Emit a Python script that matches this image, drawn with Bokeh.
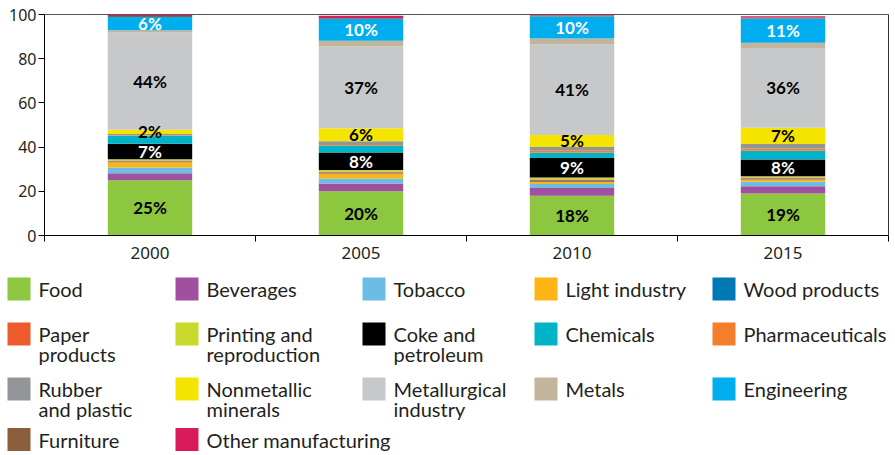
from bokeh.plotting import figure
from bokeh.models import ColumnDataSource, Range1d, FixedTicker, LinearAxis
from bokeh.embed import file_html
from bokeh.resources import INLINE
from bokeh.core.properties import value

years = ["2000", "2005", "2010", "2015"]
categories = ["Food", "Beverages", "Tobacco", "Light industry", "Wood products",
              "Paper\nproducts", "Printing and\nreproduction", "Coke and\npetroleum",
              "Chemicals", "Pharmaceuticals", "Rubber\nand plastic", "Nonmetallic\nminerals",
              "Metallurgical\nindustry", "Metals", "Engineering", "Furniture",
              "Other manufacturing"]
colors = ["#8dc63f", "#a0509f", "#6bbde3", "#fdb515", "#0079b4",
          "#ec5a2d", "#c8d92b", "#000000", "#00b3c7", "#f47f2a",
          "#939598", "#f5e400", "#c7c8ca", "#c2b59b", "#00adee",
          "#8b5e3c", "#d91b5c"]
y_ticks = [0, 20, 40, 60, 80, 100]

food = [25.0, 20.0, 18.0, 19.0]
beverages = [3.2, 3.5, 3.5, 3.3]
tobacco = [2.6, 2.3, 1.8, 2.0]
light_industry = [2.4, 2.3, 1.0, 1.0]
wood_products = [0.3, 0.3, 0.4, 0.4]
paper_products = [0.4, 0.6, 0.6, 0.5]
printing = [0.6, 0.6, 1.0, 0.6]
coke = [7.0, 8.0, 8.8, 7.6]
chemicals = [3.6, 3.0, 2.4, 4.0]
pharmaceuticals = [0.3, 0.3, 0.8, 1.0]
rubber = [0.5, 1.8, 1.8, 2.0]
nonmetallic = [2.0, 5.8, 5.4, 7.4]
metallurgical = [44.0, 37.0, 41.0, 36.0]
metals = [1.0, 2.6, 2.6, 2.4]
engineering = [6.0, 10.0, 10.0, 11.0]
furniture = [0.4, 0.3, 0.4, 0.4]
other = [0.5, 1.0, 0.6, 0.6]

series = [food, beverages, tobacco, light_industry, wood_products, paper_products,
          printing, coke, chemicals, pharmaceuticals, rubber, nonmetallic,
          metallurgical, metals, engineering, furniture, other]
labelled = {0: "#000000", 7: "#ffffff", 11: "#000000", 12: "#000000", 14: "#ffffff"}

# ---- layout geometry (page pixels) ----
W, H = 892, 454
OFF = 1                      # canvas offset on page
X0, XPX = 45, 211.0          # page x of x=0, px per category
Y0, YPX = 236, 2.21          # page y of y=0, px per percent


def dx(px):
    return (px - X0) / XPX


def dy(py):
    return (Y0 - py) / YPX


xs = [i + 0.5 for i in range(len(years))]
keys = ["s%d" % i for i in range(len(series))]
data = {"x": xs}
for k, s in zip(keys, series):
    data[k] = s
src = ColumnDataSource(data)

p = figure(width=W, height=H,
           x_range=Range1d(dx(OFF), dx(OFF + W)), y_range=Range1d(dy(OFF + H), dy(OFF)),
           toolbar_location=None, output_backend="svg", min_border=0,
           x_axis_location=None, y_axis_location=None)
p.outline_line_color = None
for g in p.grid:
    g.visible = False

p.vbar_stack(keys, x="x", width=0.4, source=src, fill_color=colors, line_color=None)

# value labels
lx, ly, lt, lc = [], [], [], []
for j in range(len(years)):
    cum = 0.0
    for i, s in enumerate(series):
        if i in labelled:
            lx.append(xs[j])
            ly.append(cum + s[j] / 2)
            lt.append("%d%%" % round(s[j]))
            lc.append(labelled[i])
        cum += s[j]
p.text(x=lx, y=ly, text=lt, text_color=lc, text_align="center", text_baseline="middle",
       text_font=value("Lato"), text_font_style="bold", text_font_size="17px")

# axes
xa = LinearAxis(fixed_location=0, bounds=(0, len(years)))
xa.ticker = FixedTicker(ticks=xs, minor_ticks=list(range(len(years) + 1)))
xa.major_label_overrides = {x: y for x, y in zip(xs, years)}
xa.major_tick_line_color = None
xa.major_tick_out = 5
xa.minor_tick_in = 0
xa.minor_tick_out = 6
xa.minor_tick_line_color = "#000000"
xa.axis_line_color = "#000000"
xa.major_label_standoff = 5
xa.major_label_text_font = "Noto Sans"
xa.major_label_text_font_size = "17px"
xa.major_label_text_color = "#231f20"
p.add_layout(xa, "below")

ya = LinearAxis(fixed_location=0, bounds=(0, 100))
ya.ticker = FixedTicker(ticks=y_ticks, minor_ticks=[])
ya.major_tick_in = 0
ya.major_tick_out = 6
ya.major_tick_line_color = "#000000"
ya.axis_line_color = "#000000"
ya.major_label_standoff = 2
ya.major_label_text_font = "Noto Sans"
ya.major_label_text_font_size = "16px"
ya.major_label_text_color = "#231f20"
p.add_layout(ya, "left")

# frame lines (top and right)
ta = LinearAxis(fixed_location=100, bounds=(0, len(years)))
ta.ticker = FixedTicker(ticks=[], minor_ticks=[])
ta.axis_line_color = "#555555"
ta.major_label_text_font_size = "0px"
p.add_layout(ta, "above")

ra = LinearAxis(fixed_location=len(years), bounds=(0, 100))
ra.ticker = FixedTicker(ticks=[], minor_ticks=[])
ra.axis_line_color = "#333333"
ra.major_label_text_font_size = "0px"
p.add_layout(ra, "right")

# legend
col_left = [8, 176, 363, 535, 713]
ncol = 5
sw = 23
rx, ry, rc = [], [], []
tx, ty, tt = [], [], []
cy = 289.5
for r in range(0, len(categories), ncol):
    row = categories[r:r + ncol]
    maxlines = max(len(c.split("\n")) for c in row)
    ycen = min(cy, 440)
    for k, name in enumerate(row):
        left = col_left[k]
        rx.append(dx(left + sw / 2))
        ry.append(dy(ycen))
        rc.append(colors[r + k])
        for li, line in enumerate(name.split("\n")):
            tx.append(dx(left + 31))
            ty.append(dy(ycen + 20 * li))
            tt.append(line)
    cy += 35 + 10 * maxlines

p.rect(x=rx, y=ry, width=sw, height=sw, width_units="screen", height_units="screen",
       fill_color=rc, line_color=None)
p.text(x=tx, y=ty, text=tt, text_align="left", text_baseline="middle",
       text_font=value("Lato"), text_font_size="20px", text_color="#231f20")

open("out.html", "w").write(file_html(p, INLINE))
